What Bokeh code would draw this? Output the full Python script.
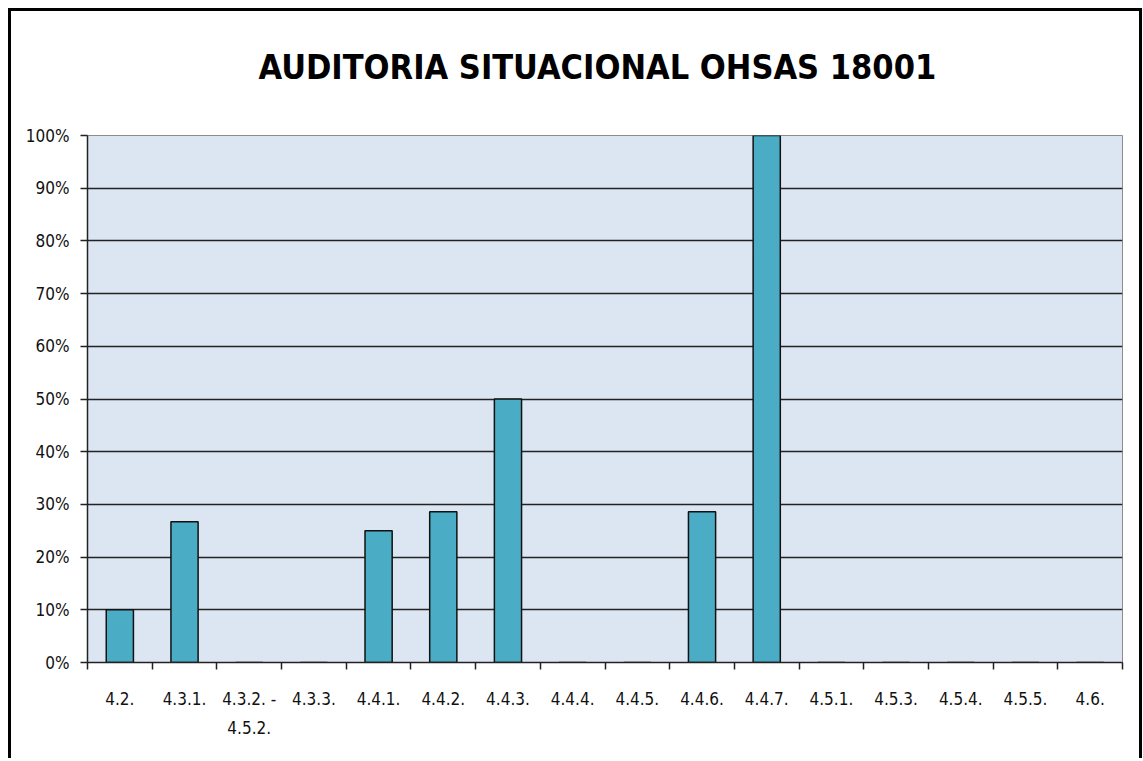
import numpy as np
from bokeh.plotting import figure
from bokeh.models import FixedTicker, NumeralTickFormatter, Range1d
from bokeh.embed import file_html
from bokeh.resources import INLINE

categories = ["4.2.", "4.3.1.", "4.3.2. -\n4.5.2.", "4.3.3.", "4.4.1.", "4.4.2.",
              "4.4.3.", "4.4.4.", "4.4.5.", "4.4.6.", "4.4.7.", "4.5.1.",
              "4.5.3.", "4.5.4.", "4.5.5.", "4.6."]
values = [0.10, 0.267, 0.0, 0.0, 0.25, 0.286, 0.50, 0.0, 0.0, 0.286, 1.00,
          0.0, 0.0, 0.0, 0.0, 0.0]
y_ticks = [0.0, 0.1, 0.2, 0.3, 0.4, 0.5, 0.6, 0.7, 0.8, 0.9, 1.0]

n = len(categories)
xpos = [i + 0.5 for i in range(n)]

FONT = "DejaVu Sans Condensed"

p = figure(width=1134, height=750, output_backend="svg", toolbar_location=None,
           x_range=Range1d(0, n), y_range=Range1d(0, 1),
           min_border_left=76, min_border_right=23, min_border_top=124,
           min_border_bottom=99)
p.styles = {"border-left": "3px solid black", "border-top": "3px solid black",
            "border-right": "3px solid black",
            "margin-left": "8px", "margin-top": "8px"}

p.title.text = "AUDITORIA SITUACIONAL OHSAS 18001"
p.title.align = "left"
p.title.offset = 171
p.title.text_font = FONT
p.title.text_font_style = "bold"
p.title.text_font_size = "34px"
p.title.text_color = "black"
p.title.standoff = 10
p.title.padding = dict(left=0, right=0, top=0, bottom=44)

p.background_fill_color = "#DCE6F2"
p.border_fill_color = "white"
p.outline_line_color = "#8c8c8c"
p.outline_line_width = 1

p.vbar(x=xpos, top=values, width=0.42, fill_color="#4BACC6",
       line_color="#111111", line_width=1.5)

# grid
p.xgrid.visible = False
p.ygrid.ticker = FixedTicker(ticks=y_ticks[1:-1])
p.ygrid.grid_line_color = "#222222"
p.ygrid.grid_line_width = 1.5

# y axis
p.yaxis.ticker = FixedTicker(ticks=y_ticks)
p.yaxis.formatter = NumeralTickFormatter(format="0%")
p.yaxis.axis_line_color = "#222222"
p.yaxis.axis_line_width = 1.5
p.yaxis.major_tick_line_color = "#222222"
p.yaxis.major_tick_line_width = 1.5
p.yaxis.major_tick_out = 7
p.yaxis.major_tick_in = 0
p.yaxis.minor_tick_line_color = None
p.yaxis.major_label_standoff = 11
p.yaxis.major_label_text_font = FONT
p.yaxis.major_label_text_font_size = "17px"
p.yaxis.major_label_text_color = "#111111"

# x axis: labels at centres, tick marks at category boundaries
p.xaxis.ticker = FixedTicker(ticks=xpos, minor_ticks=list(range(n + 1)))
p.xaxis.major_label_overrides = {x: c for x, c in zip(xpos, categories)}
p.xaxis.major_tick_line_color = None
p.xaxis.major_tick_out = 0
p.xaxis.major_tick_in = 0
p.xaxis.minor_tick_line_color = "#222222"
p.xaxis.minor_tick_line_width = 1.5
p.xaxis.minor_tick_out = 7
p.xaxis.minor_tick_in = 0
p.xaxis.axis_line_color = "#222222"
p.xaxis.axis_line_width = 1.5
p.xaxis.major_label_standoff = 19
p.xaxis.major_label_text_font = FONT
p.xaxis.major_label_text_font_size = "17px"
p.xaxis.major_label_text_color = "#111111"
p.xaxis.major_label_text_line_height = 1.45

open("out.html", "w").write(file_html(p, INLINE))
